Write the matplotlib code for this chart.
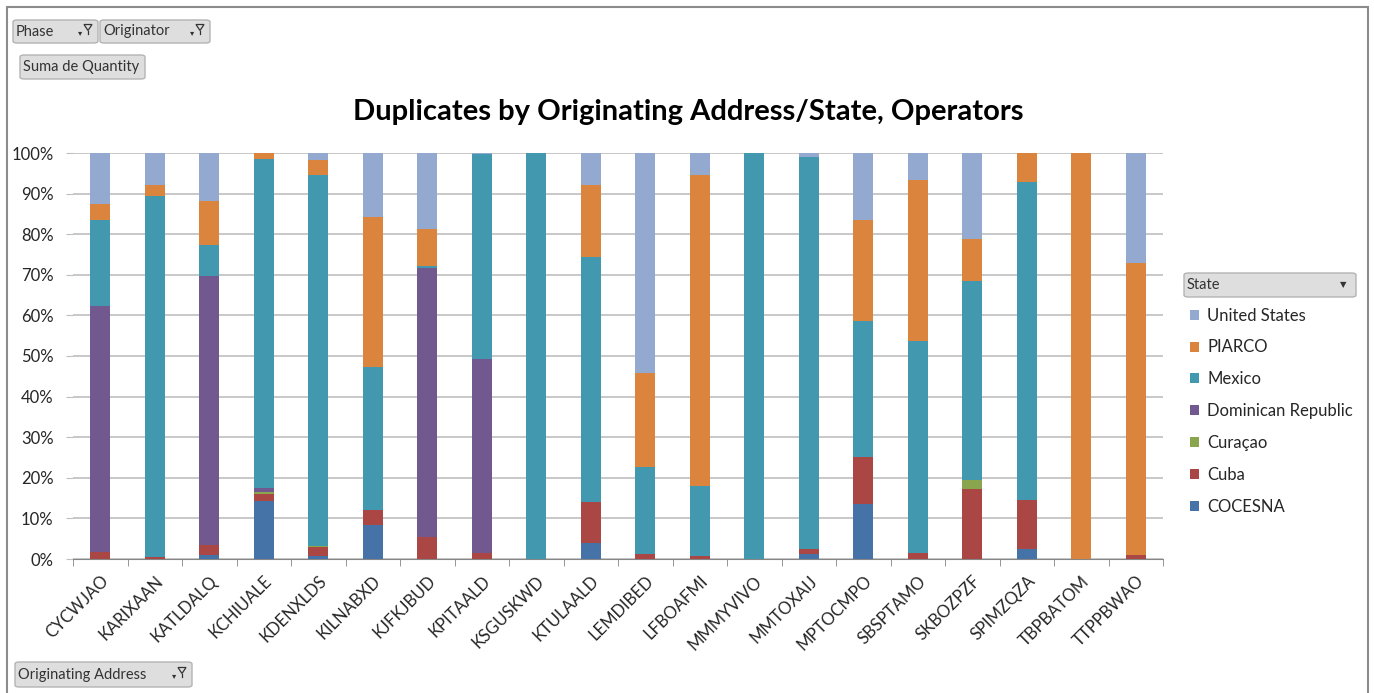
import numpy as np
import matplotlib
matplotlib.use("Agg")
import matplotlib.pyplot as plt
from matplotlib.patches import FancyBboxPatch, Rectangle, Polygon
from matplotlib.ticker import PercentFormatter

plt.rcParams['font.family'] = ['Lato', 'DejaVu Sans']

# percentages (each column sums to ~100)
addresses = ['CYCWJAO', 'KARIXAAN', 'KATLDALQ', 'KCHIUALE', 'KDENXLDS', 'KILNABXD',
             'KJFKJBUD', 'KPITAALD', 'KSGUSKWD', 'KTULAALD', 'LEMDIBED', 'LFBOAFMI',
             'MMMYVIVO', 'MMTOXAIJ', 'MPTOCMPO', 'SBSPTAMO', 'SKBOZPZF', 'SPIMZQZA',
             'TBPBATOM', 'TTPPBWAO']
cocesna = [0, 0, 0.9, 14.2, 0.7, 8.3, 0, 0, 0, 3.9, 0, 0, 0, 1.3, 13.6, 0, 0, 2.5, 0, 0]
cuba = [1.7, 0.5, 2.6, 1.9, 2.3, 3.7, 5.4, 1.6, 0, 10.2, 1.3, 0.7, 0, 1.2, 11.6, 1.5, 17.2, 12.0, 0, 1.1]
curacao = [0, 0, 0, 0.3, 0.2, 0, 0, 0, 0, 0, 0, 0, 0, 0, 0, 0, 2.3, 0, 0, 0]
dominican = [60.6, 0, 66.2, 1.2, 0, 0, 66.3, 47.6, 0, 0, 0, 0, 0, 0, 0, 0, 0, 0, 0, 0]
mexico = [21.3, 88.8, 7.6, 80.8, 91.3, 35.2, 0.4, 50.6, 100, 60.3, 21.3, 17.3, 100, 96.4, 33.3, 52.3, 48.9, 78.4, 0, 0]
piarco = [3.9, 2.7, 10.9, 1.6, 3.7, 37.0, 9.2, 0, 0, 17.6, 23.2, 76.7, 0, 0, 24.9, 39.6, 10.4, 7.1, 100, 71.9]
united_states = [12.5, 8.0, 11.8, 0, 1.8, 15.8, 18.7, 0.2, 0, 8.0, 54.2, 5.3, 0, 1.1, 16.6, 6.6, 21.2, 0, 0, 27.0]

states = ['COCESNA', 'Cuba', 'Curaçao', 'Dominican Republic', 'Mexico', 'PIARCO', 'United States']
series = [cocesna, cuba, curacao, dominican, mexico, piarco, united_states]
colors = ['#4572A7', '#AA4643', '#89A54E', '#71588F', '#4198AF', '#DB843D', '#93A9CF']

W, H = 1374, 693
fig = plt.figure(figsize=(W / 100, H / 100), dpi=100)


def fx(x):
    return x / W


def fy(y):
    return 1 - y / H


ax = fig.add_axes([fx(73), fy(559), fx(1163) - fx(73), fy(153) - fy(559)])

data = np.array(series, dtype=float)
data = data / data.sum(axis=0)
x = np.arange(len(addresses))
bottom = np.zeros(len(addresses))
handles = []
for vals, name, c in zip(data, states, colors):
    b = ax.bar(x, vals, 0.37, bottom=bottom, color=c, label=name, linewidth=0, zorder=3)
    handles.append(b)
    bottom += vals

ax.set_xlim(-0.5, len(addresses) - 0.5)
ax.set_ylim(0, 1)
ax.set_yticks(np.arange(0, 1.01, 0.1))
ax.yaxis.set_major_formatter(PercentFormatter(1.0, decimals=0))
ax.yaxis.grid(True, color='#bfbfbf', linewidth=1.2, zorder=0)
ax.tick_params(axis='y', length=5, color='#bfbfbf', labelsize=12, labelcolor='#262626', pad=9)
ax.set_xticks(x)
ax.set_xticklabels(addresses, rotation=45, ha='right', rotation_mode='anchor', fontsize=12, color='#262626')
ax.set_xticks(np.arange(-0.5, len(addresses)), minor=True)
ax.tick_params(axis='x', which='major', length=0, pad=10)
ax.tick_params(axis='x', which='minor', length=5, color='#868686')
for s in ['top', 'right', 'left']:
    ax.spines[s].set_visible(False)
ax.spines['bottom'].set_color('#868686')

fig.text(fx(688), fy(112), 'Duplicates by Originating Address/State, Operators',
         ha='center', va='center', fontsize=21, fontweight='bold', color='black')

fig.legend(handles[::-1], states[::-1], loc='upper left', bbox_to_anchor=(fx(1183), fy(301)),
           frameon=False, fontsize=12, handlelength=0.55, handleheight=0.55, handletextpad=0.5,
           labelspacing=0.95, borderaxespad=0, labelcolor='#262626')


def button(x0, y0, x1, y1, label, icon=None):
    p = FancyBboxPatch((fx(x0), fy(y1)), fx(x1) - fx(x0), fy(y0) - fy(y1),
                       boxstyle='round,pad=0,rounding_size=0.003', transform=fig.transFigure,
                       facecolor='#dedede', edgecolor='#b3b3b3', linewidth=1)
    fig.patches.append(p)
    fig.text(fx(x0 + 3), fy((y0 + y1) / 2), label, ha='left', va='center', fontsize=10.5, color='#333333')
    if icon == 'filter':
        cx, cy = x1 - 10, (y0 + y1) / 2 - 2
        fig.patches.append(Polygon([(fx(cx - 4), fy(cy - 5)), (fx(cx + 4), fy(cy - 5)),
                                    (fx(cx), fy(cy + 1))], closed=True, transform=fig.transFigure,
                                   facecolor='none', edgecolor='#333333', linewidth=0.9))
        fig.lines.append(plt.Line2D([fx(cx), fx(cx)], [fy(cy + 1), fy(cy + 4)],
                                    transform=fig.transFigure, color='#333333', linewidth=0.9))
        fig.text(fx(cx - 8), fy(cy + 3), '▾', ha='center', va='center', fontsize=6,
                 color='#333333', family='DejaVu Sans')
    elif icon == 'arrow':
        fig.text(fx(x1 - 13), fy((y0 + y1) / 2), '▼', ha='center', va='center', fontsize=6,
                 color='#333333', family='DejaVu Sans')


button(13, 20, 98, 43, 'Phase', 'filter')
button(100, 20, 210, 43, 'Originator', 'filter')
button(20, 55, 145, 79, 'Suma de Quantity')
button(15, 662, 192, 687, 'Originating Address', 'filter')
button(1184, 273, 1356, 297, 'State', 'arrow')

fig.patches.append(Rectangle((fx(7), fy(700)), fx(1368) - fx(7), fy(7) - fy(700),
                             transform=fig.transFigure, facecolor='none',
                             edgecolor='#8c8c8c', linewidth=1.5))

fig.savefig('out.png', dpi=100)
